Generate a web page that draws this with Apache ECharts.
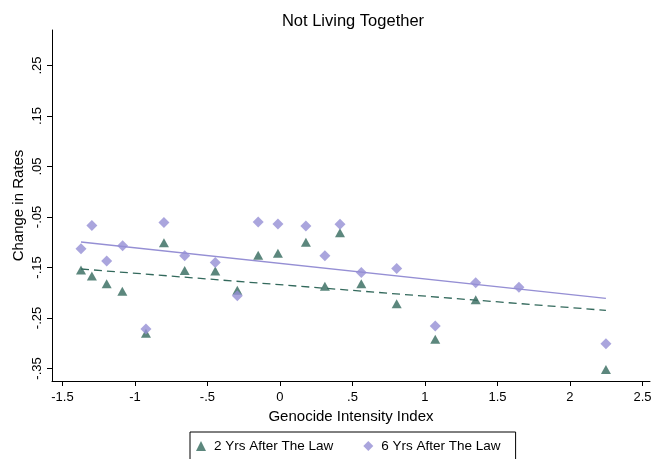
<!DOCTYPE html>
<html>
<head>
<meta charset="utf-8">
<script src="https://cdn.jsdelivr.net/npm/echarts@6/dist/echarts.min.js"></script>
<style>html,body{margin:0;padding:0;background:#fff}#c{width:652px;height:459px}</style>
</head>
<body>
<div id="c"></div>
<script>
// Genocide Intensity Index (x) and change in rates (y)
var x2 = [-1.372, -1.297, -1.195, -1.087, -0.924, -0.800, -0.657, -0.446, -0.294, -0.150, -0.014, 0.179, 0.310, 0.414, 0.561, 0.805, 1.071, 1.350, 2.248];
var y2 = [-0.155, -0.167, -0.182, -0.197, -0.280, -0.101, -0.156, -0.157, -0.195, -0.126, -0.122, -0.100, -0.187, -0.081, -0.182, -0.222, -0.292, -0.214, -0.352];
var x6 = [-1.372, -1.297, -1.195, -1.085, -0.924, -0.800, -0.657, -0.446, -0.294, -0.150, -0.014, 0.179, 0.310, 0.414, 0.561, 0.805, 1.071, 1.350, 1.648, 2.248];
var y6 = [-0.113, -0.067, -0.137, -0.107, -0.272, -0.061, -0.127, -0.140, -0.206, -0.060, -0.064, -0.068, -0.127, -0.0645, -0.160, -0.152, -0.266, -0.180, -0.189, -0.301];
// fitted lines (endpoints)
var fitX = [-1.372, 2.248];
var fit2 = [-0.153, -0.235];
var fit6 = [-0.0995, -0.211];
var xTicks = [-1.5, -1, -0.5, 0, 0.5, 1, 1.5, 2, 2.5];
var yTicks = [-0.35, -0.25, -0.15, -0.05, 0.05, 0.15, 0.25];
var seriesNames = ['2 Yrs After The Law', '6 Yrs After The Law'];

function zip(a, b) { return a.map(function (v, i) { return [v, b[i]]; }); }
function fmt(v) {
  var s = String(Math.round(v * 100) / 100);
  return s.replace(/^0\./, '.').replace(/^-0\./, '-.');
}
var green = '#33695c', lav = '#958fd4';
var font = 'Liberation Sans, Arial, Helvetica, sans-serif';

var chart = echarts.init(document.getElementById('c'), null, {renderer: 'canvas'});
chart.setOption({
  animation: false,
  backgroundColor: '#fff',
  title: {
    text: 'Not Living Together', left: 348, top: 8, textAlign: 'center',
    textStyle: {fontFamily: font, fontSize: 16.5, fontWeight: 'normal', color: '#000'}
  },
  grid: {left: 52, right: 2, top: 30, bottom: 78, containLabel: false, outerBoundsMode: 'none'},
  xAxis: {
    type: 'value', min: -1.572, max: 2.552,
    name: 'Genocide Intensity Index', nameLocation: 'middle', nameGap: 27,
    nameTextStyle: {fontFamily: font, fontSize: 15, color: '#000'},
    axisLine: {show: true, onZero: false, lineStyle: {color: '#000', width: 1}},
    axisTick: {show: true, length: 5, customValues: xTicks, lineStyle: {color: '#000'}},
    axisLabel: {customValues: xTicks, formatter: fmt, fontFamily: font, fontSize: 13, color: '#000', margin: 10},
    splitLine: {show: false}
  },
  yAxis: {
    type: 'value', min: -0.3748, max: 0.3203,
    name: 'Change in Rates', nameLocation: 'middle', nameGap: 26, nameMoveOverlap: false,
    nameTextStyle: {fontFamily: font, fontSize: 15, color: '#000'},
    axisLine: {show: true, onZero: false, lineStyle: {color: '#000', width: 1}},
    axisTick: {show: true, length: 5, customValues: yTicks, lineStyle: {color: '#000'}},
    axisLabel: {customValues: yTicks, formatter: fmt, rotate: 90, fontFamily: font, fontSize: 13, color: '#000', margin: 8},
    splitLine: {show: false}
  },
  legend: {
    left: 190, top: 432, orient: 'horizontal',
    padding: [7, 15, 30, 6], itemGap: 30, itemWidth: 10, itemHeight: 10,
    borderColor: '#000', borderWidth: 1,
    textStyle: {fontFamily: font, fontSize: 13.5, color: '#000', padding: [0, 0, 0, 3]},
    data: [{name: seriesNames[0], icon: 'triangle'}, {name: seriesNames[1], icon: 'diamond'}]
  },
  series: [
    {type: 'line', data: zip(fitX, fit6), symbol: 'none', z: 1, silent: true,
     lineStyle: {color: lav, width: 1.3}},
    {type: 'line', data: zip(fitX, fit2), symbol: 'none', z: 1, silent: true,
     lineStyle: {color: green, width: 1.3, type: [8, 5]}},
    {name: seriesNames[0], type: 'scatter', data: zip(x2, y2), symbol: 'triangle', symbolSize: [10, 9],
     itemStyle: {color: green}, z: 3},
    {name: seriesNames[1], type: 'scatter', data: zip(x6, y6), symbol: 'diamond', symbolSize: 11,
     itemStyle: {color: lav}, z: 4}
  ]
});
</script>
</body>
</html>
